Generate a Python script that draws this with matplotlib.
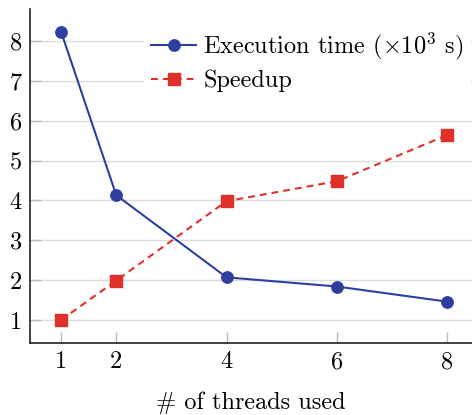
import matplotlib
matplotlib.use("Agg")
import matplotlib.pyplot as plt

# values
threads = [1, 2, 4, 6, 8]
exec_time = [8.23, 4.13, 2.07, 1.84, 1.46]   # x10^3 s
speedup = [1.0, 1.99, 3.98, 4.48, 5.64]
xticks = [1, 2, 4, 6, 8]
yticks = [1, 2, 3, 4, 5, 6, 7, 8]

plt.rcParams['font.family'] = ['cmr10', 'DejaVu Serif']
plt.rcParams['mathtext.fontset'] = 'cm'
plt.rcParams['axes.formatter.use_mathtext'] = True

blue = '#2f3f9f'
red = '#e0302a'

fig = plt.figure(figsize=(4.72, 4.15), dpi=100)
ax = fig.add_axes([30 / 472, 72 / 415, 1 - 30 / 472, 334 / 415])

ax.plot(threads, exec_time, color=blue, lw=1.5, marker='o', markersize=8.2,
        label=r'Execution time ($\times10^3$ s)', zorder=3)
ax.plot(threads, speedup, color=red, lw=1.5, marker='s', markersize=8,
        dashes=(3.3, 2.4), label='Speedup', zorder=3)

ax.set_xlim(0.436, 8.45)
ax.set_ylim(0.423, 8.80)
ax.set_xticks(xticks)
ax.set_yticks(yticks)
ax.set_xticklabels([str(t) for t in xticks])
ax.set_yticklabels([str(t) for t in yticks])
ax.tick_params(direction='in', length=8, width=1, color='#bbbbbb',
               labelsize=17.5, pad=6)
ax.grid(axis='y', color='#dcdcdc', lw=1)
ax.set_axisbelow(True)

for side in ['top', 'right']:
    ax.spines[side].set_visible(False)
for side in ['left', 'bottom']:
    ax.spines[side].set_linewidth(1.2)
    ax.spines[side].set_color('#222222')

ax.set_xlabel('# of threads used', fontsize=17.5, labelpad=13)

leg = ax.legend(loc='upper right', bbox_to_anchor=(1.014, 0.978), fontsize=17.5,
                frameon=True, framealpha=1, edgecolor='white', fancybox=False,
                handlelength=1.85, handletextpad=0.3, labelspacing=0.3,
                borderpad=0.3, borderaxespad=0.3)
leg.get_frame().set_linewidth(0)

plt.savefig('out.png', dpi=100)
